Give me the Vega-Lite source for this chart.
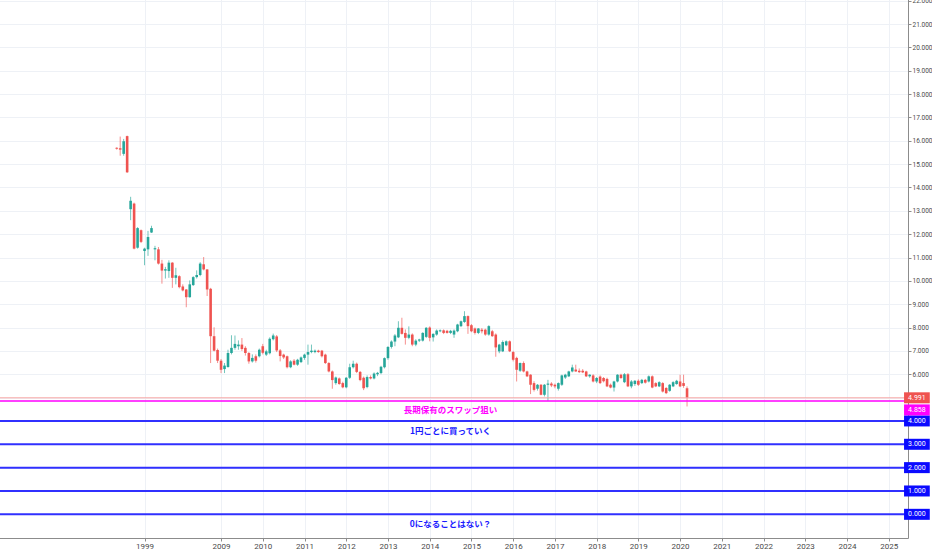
{
  "$schema": "https://vega.github.io/schema/vega-lite/v6.json",
  "width": 932,
  "height": 550,
  "autosize": {"type": "fit", "contains": "padding"},
  "padding": {"left": -7, "top": -5, "right": 0, "bottom": 0},
  "background": "#ffffff",
  "config": {
    "view": {"stroke": null},
    "font": "Roboto",
    "axis": {"labelOverlap": false, "labelSeparation": 0}
  },
  "datasets": {
    "candles": [
      {"t": -30, "o": 15.70, "h": 15.72, "l": 15.62, "c": 15.66},
      {"t": -29, "o": 15.68, "h": 16.18, "l": 15.36, "c": 15.62},
      {"t": -28, "o": 15.44, "h": 16.08, "l": 15.36, "c": 15.98},
      {"t": -27, "o": 16.20, "h": 16.22, "l": 14.62, "c": 14.65},
      {"t": -26, "o": 13.07, "h": 13.60, "l": 12.60, "c": 13.43},
      {"t": -25, "o": 13.31, "h": 13.35, "l": 11.35, "c": 11.38},
      {"t": -24, "o": 11.42, "h": 12.30, "l": 11.38, "c": 12.26},
      {"t": -23, "o": 12.17, "h": 12.20, "l": 11.62, "c": 11.67},
      {"t": -22, "o": 11.28, "h": 11.42, "l": 10.67, "c": 11.38},
      {"t": -21, "o": 11.35, "h": 12.14, "l": 11.07, "c": 11.88},
      {"t": -20, "o": 12.07, "h": 12.36, "l": 12.05, "c": 12.26},
      {"t": -19, "o": 11.35, "h": 11.50, "l": 10.88, "c": 11.40},
      {"t": -18, "o": 11.35, "h": 11.45, "l": 10.70, "c": 10.74},
      {"t": -17, "o": 10.74, "h": 10.90, "l": 9.88, "c": 10.44},
      {"t": -16, "o": 10.44, "h": 10.60, "l": 10.10, "c": 10.50},
      {"t": -15, "o": 10.42, "h": 10.88, "l": 10.13, "c": 10.78},
      {"t": -14, "o": 10.78, "h": 10.80, "l": 9.70, "c": 10.13},
      {"t": -13, "o": 10.13, "h": 10.56, "l": 9.85, "c": 10.24},
      {"t": -12, "o": 10.20, "h": 10.24, "l": 9.68, "c": 9.73},
      {"t": -11, "o": 9.76, "h": 9.85, "l": 9.55, "c": 9.59},
      {"t": -10, "o": 9.63, "h": 9.65, "l": 8.87, "c": 9.30},
      {"t": -9, "o": 9.30, "h": 10.02, "l": 9.28, "c": 9.85},
      {"t": -8, "o": 9.82, "h": 10.20, "l": 9.78, "c": 10.16},
      {"t": -7, "o": 10.16, "h": 10.45, "l": 10.10, "c": 10.25},
      {"t": -6, "o": 10.25, "h": 10.80, "l": 10.20, "c": 10.74},
      {"t": -5, "o": 10.71, "h": 11.02, "l": 10.45, "c": 10.49},
      {"t": -4, "o": 10.49, "h": 10.50, "l": 9.35, "c": 9.63},
      {"t": -3, "o": 9.66, "h": 9.70, "l": 6.48, "c": 7.63},
      {"t": -2, "o": 7.63, "h": 8.01, "l": 6.98, "c": 7.01},
      {"t": -1, "o": 7.04, "h": 7.10, "l": 6.48, "c": 6.58},
      {"t": 0, "o": 6.58, "h": 6.65, "l": 6.05, "c": 6.19},
      {"t": 1, "o": 6.22, "h": 6.48, "l": 6.05, "c": 6.37},
      {"t": 2, "o": 6.31, "h": 7.05, "l": 6.28, "c": 6.91},
      {"t": 3, "o": 6.91, "h": 7.67, "l": 6.85, "c": 7.13},
      {"t": 4, "o": 7.13, "h": 7.66, "l": 7.05, "c": 7.30},
      {"t": 5, "o": 7.20, "h": 7.45, "l": 7.05, "c": 7.27},
      {"t": 6, "o": 7.27, "h": 7.55, "l": 7.00, "c": 7.08},
      {"t": 7, "o": 7.13, "h": 7.20, "l": 6.80, "c": 6.91},
      {"t": 8, "o": 6.91, "h": 6.95, "l": 6.45, "c": 6.55},
      {"t": 9, "o": 6.55, "h": 6.85, "l": 6.50, "c": 6.70},
      {"t": 10, "o": 6.77, "h": 6.85, "l": 6.50, "c": 6.58},
      {"t": 11, "o": 6.77, "h": 7.10, "l": 6.72, "c": 7.05},
      {"t": 12, "o": 7.20, "h": 7.30, "l": 6.85, "c": 6.92},
      {"t": 13, "o": 6.84, "h": 7.05, "l": 6.78, "c": 6.98},
      {"t": 14, "o": 6.90, "h": 7.58, "l": 6.85, "c": 7.52},
      {"t": 15, "o": 7.50, "h": 7.74, "l": 7.45, "c": 7.66},
      {"t": 16, "o": 7.62, "h": 7.68, "l": 6.95, "c": 7.02},
      {"t": 17, "o": 7.02, "h": 7.08, "l": 6.55, "c": 6.78},
      {"t": 18, "o": 6.84, "h": 6.88, "l": 6.65, "c": 6.72},
      {"t": 19, "o": 6.77, "h": 6.80, "l": 6.25, "c": 6.30},
      {"t": 20, "o": 6.30, "h": 6.60, "l": 6.26, "c": 6.55},
      {"t": 21, "o": 6.58, "h": 6.65, "l": 6.38, "c": 6.41},
      {"t": 22, "o": 6.41, "h": 6.66, "l": 6.36, "c": 6.62},
      {"t": 23, "o": 6.52, "h": 6.76, "l": 6.48, "c": 6.72},
      {"t": 24, "o": 6.70, "h": 6.88, "l": 6.62, "c": 6.84},
      {"t": 25, "o": 6.84, "h": 7.27, "l": 6.41, "c": 6.95},
      {"t": 26, "o": 6.95, "h": 7.27, "l": 6.90, "c": 7.01},
      {"t": 27, "o": 6.95, "h": 7.06, "l": 6.90, "c": 7.01},
      {"t": 28, "o": 7.01, "h": 7.05, "l": 6.92, "c": 6.95},
      {"t": 29, "o": 7.01, "h": 7.04, "l": 6.72, "c": 6.77},
      {"t": 30, "o": 6.84, "h": 6.88, "l": 6.44, "c": 6.48},
      {"t": 31, "o": 6.48, "h": 6.52, "l": 6.08, "c": 6.12},
      {"t": 32, "o": 6.12, "h": 6.16, "l": 5.38, "c": 5.75},
      {"t": 33, "o": 5.62, "h": 5.90, "l": 5.55, "c": 5.86},
      {"t": 34, "o": 5.82, "h": 5.86, "l": 5.55, "c": 5.58},
      {"t": 35, "o": 5.62, "h": 5.68, "l": 5.40, "c": 5.44},
      {"t": 36, "o": 5.44, "h": 5.88, "l": 5.40, "c": 5.85},
      {"t": 37, "o": 5.85, "h": 6.45, "l": 5.80, "c": 6.30},
      {"t": 38, "o": 6.30, "h": 6.58, "l": 6.25, "c": 6.45},
      {"t": 39, "o": 6.45, "h": 6.50, "l": 6.05, "c": 6.10},
      {"t": 40, "o": 6.10, "h": 6.14, "l": 5.70, "c": 5.75},
      {"t": 41, "o": 5.85, "h": 5.90, "l": 5.32, "c": 5.40},
      {"t": 42, "o": 5.45, "h": 5.95, "l": 5.40, "c": 5.88},
      {"t": 43, "o": 5.88, "h": 5.95, "l": 5.78, "c": 5.82},
      {"t": 44, "o": 5.82, "h": 6.08, "l": 5.78, "c": 6.03},
      {"t": 45, "o": 6.00, "h": 6.10, "l": 5.92, "c": 6.06},
      {"t": 46, "o": 6.05, "h": 6.36, "l": 6.00, "c": 6.32},
      {"t": 47, "o": 6.30, "h": 6.72, "l": 6.25, "c": 6.69},
      {"t": 48, "o": 6.69, "h": 7.20, "l": 6.62, "c": 7.17},
      {"t": 49, "o": 7.17, "h": 7.45, "l": 7.10, "c": 7.40},
      {"t": 50, "o": 7.40, "h": 7.72, "l": 7.20, "c": 7.66},
      {"t": 51, "o": 7.58, "h": 8.27, "l": 7.55, "c": 7.99},
      {"t": 52, "o": 7.99, "h": 8.42, "l": 7.70, "c": 7.73},
      {"t": 53, "o": 7.77, "h": 7.92, "l": 7.27, "c": 7.56},
      {"t": 54, "o": 7.56, "h": 8.05, "l": 7.50, "c": 7.70},
      {"t": 55, "o": 7.70, "h": 7.75, "l": 7.20, "c": 7.27},
      {"t": 56, "o": 7.27, "h": 7.50, "l": 7.20, "c": 7.44},
      {"t": 57, "o": 7.44, "h": 7.52, "l": 7.38, "c": 7.49},
      {"t": 58, "o": 7.44, "h": 7.80, "l": 7.40, "c": 7.77},
      {"t": 59, "o": 7.60, "h": 8.02, "l": 7.55, "c": 7.99},
      {"t": 60, "o": 8.00, "h": 8.05, "l": 7.41, "c": 7.56},
      {"t": 61, "o": 7.58, "h": 7.75, "l": 7.40, "c": 7.73},
      {"t": 62, "o": 7.70, "h": 7.92, "l": 7.65, "c": 7.87},
      {"t": 63, "o": 7.84, "h": 7.92, "l": 7.80, "c": 7.88},
      {"t": 64, "o": 7.88, "h": 7.92, "l": 7.72, "c": 7.77},
      {"t": 65, "o": 7.86, "h": 7.90, "l": 7.74, "c": 7.77},
      {"t": 66, "o": 7.77, "h": 7.90, "l": 7.72, "c": 7.86},
      {"t": 67, "o": 7.70, "h": 7.92, "l": 7.56, "c": 7.87},
      {"t": 68, "o": 7.84, "h": 8.16, "l": 7.80, "c": 8.13},
      {"t": 69, "o": 8.06, "h": 8.30, "l": 8.02, "c": 8.27},
      {"t": 70, "o": 8.24, "h": 8.70, "l": 8.20, "c": 8.49},
      {"t": 71, "o": 8.49, "h": 8.52, "l": 7.73, "c": 8.06},
      {"t": 72, "o": 8.10, "h": 8.15, "l": 7.80, "c": 7.84},
      {"t": 73, "o": 7.96, "h": 8.00, "l": 7.70, "c": 7.77},
      {"t": 74, "o": 7.77, "h": 7.98, "l": 7.72, "c": 7.96},
      {"t": 75, "o": 7.91, "h": 7.98, "l": 7.75, "c": 7.84},
      {"t": 76, "o": 7.91, "h": 7.95, "l": 7.65, "c": 7.70},
      {"t": 77, "o": 7.70, "h": 8.10, "l": 7.65, "c": 8.06},
      {"t": 78, "o": 7.84, "h": 7.90, "l": 7.60, "c": 7.63},
      {"t": 79, "o": 7.70, "h": 7.75, "l": 6.75, "c": 7.15},
      {"t": 80, "o": 6.98, "h": 7.30, "l": 6.90, "c": 7.27},
      {"t": 81, "o": 6.98, "h": 7.45, "l": 6.95, "c": 7.38},
      {"t": 82, "o": 7.24, "h": 7.45, "l": 7.20, "c": 7.41},
      {"t": 83, "o": 7.41, "h": 7.45, "l": 6.95, "c": 6.98},
      {"t": 84, "o": 6.95, "h": 7.00, "l": 6.55, "c": 6.62},
      {"t": 85, "o": 6.70, "h": 6.75, "l": 5.69, "c": 6.19},
      {"t": 86, "o": 6.15, "h": 6.50, "l": 6.10, "c": 6.48},
      {"t": 87, "o": 6.48, "h": 6.55, "l": 6.08, "c": 6.12},
      {"t": 88, "o": 6.12, "h": 6.15, "l": 5.88, "c": 5.91},
      {"t": 89, "o": 5.98, "h": 6.00, "l": 5.15, "c": 5.55},
      {"t": 90, "o": 5.62, "h": 5.70, "l": 5.26, "c": 5.33},
      {"t": 91, "o": 5.38, "h": 5.58, "l": 5.30, "c": 5.55},
      {"t": 92, "o": 5.55, "h": 5.58, "l": 5.10, "c": 5.12},
      {"t": 93, "o": 5.12, "h": 5.58, "l": 5.05, "c": 5.55},
      {"t": 94, "o": 5.55, "h": 5.76, "l": 4.85, "c": 5.60},
      {"t": 95, "o": 5.60, "h": 5.66, "l": 5.45, "c": 5.52},
      {"t": 96, "o": 5.55, "h": 5.60, "l": 5.40, "c": 5.48},
      {"t": 97, "o": 5.38, "h": 5.65, "l": 5.30, "c": 5.62},
      {"t": 98, "o": 5.55, "h": 5.98, "l": 5.50, "c": 5.95},
      {"t": 99, "o": 5.86, "h": 6.02, "l": 5.80, "c": 5.98},
      {"t": 100, "o": 5.91, "h": 6.15, "l": 5.88, "c": 6.12},
      {"t": 101, "o": 6.12, "h": 6.41, "l": 6.08, "c": 6.29},
      {"t": 102, "o": 6.20, "h": 6.41, "l": 6.10, "c": 6.12},
      {"t": 103, "o": 6.15, "h": 6.25, "l": 6.05, "c": 6.09},
      {"t": 104, "o": 6.15, "h": 6.22, "l": 6.05, "c": 6.08},
      {"t": 105, "o": 6.12, "h": 6.15, "l": 5.88, "c": 5.91},
      {"t": 106, "o": 5.91, "h": 6.00, "l": 5.85, "c": 5.98},
      {"t": 107, "o": 5.95, "h": 6.00, "l": 5.65, "c": 5.69},
      {"t": 108, "o": 5.69, "h": 5.88, "l": 5.62, "c": 5.84},
      {"t": 109, "o": 5.90, "h": 5.95, "l": 5.58, "c": 5.62},
      {"t": 110, "o": 5.84, "h": 5.88, "l": 5.65, "c": 5.70},
      {"t": 111, "o": 5.80, "h": 5.85, "l": 5.45, "c": 5.48},
      {"t": 112, "o": 5.55, "h": 5.60, "l": 5.40, "c": 5.43},
      {"t": 113, "o": 5.43, "h": 5.72, "l": 5.26, "c": 5.69},
      {"t": 114, "o": 5.69, "h": 6.00, "l": 5.65, "c": 5.98},
      {"t": 115, "o": 5.98, "h": 6.02, "l": 5.80, "c": 5.84},
      {"t": 116, "o": 5.66, "h": 6.05, "l": 5.62, "c": 6.00},
      {"t": 117, "o": 6.00, "h": 6.05, "l": 5.45, "c": 5.48},
      {"t": 118, "o": 5.48, "h": 5.75, "l": 5.40, "c": 5.69},
      {"t": 119, "o": 5.58, "h": 5.75, "l": 5.50, "c": 5.72},
      {"t": 120, "o": 5.72, "h": 5.78, "l": 5.50, "c": 5.55},
      {"t": 121, "o": 5.62, "h": 5.80, "l": 5.58, "c": 5.76},
      {"t": 122, "o": 5.76, "h": 5.80, "l": 5.60, "c": 5.64},
      {"t": 123, "o": 5.69, "h": 5.95, "l": 5.65, "c": 5.91},
      {"t": 124, "o": 5.91, "h": 5.95, "l": 5.40, "c": 5.43},
      {"t": 125, "o": 5.62, "h": 5.66, "l": 5.45, "c": 5.48},
      {"t": 126, "o": 5.48, "h": 5.70, "l": 5.45, "c": 5.66},
      {"t": 127, "o": 5.62, "h": 5.66, "l": 5.22, "c": 5.26},
      {"t": 128, "o": 5.41, "h": 5.45, "l": 5.15, "c": 5.19},
      {"t": 129, "o": 5.29, "h": 5.58, "l": 5.25, "c": 5.55},
      {"t": 130, "o": 5.48, "h": 5.70, "l": 5.45, "c": 5.66},
      {"t": 131, "o": 5.58, "h": 5.76, "l": 5.55, "c": 5.72},
      {"t": 132, "o": 5.69, "h": 5.98, "l": 5.45, "c": 5.48},
      {"t": 133, "o": 5.62, "h": 5.98, "l": 5.42, "c": 5.50},
      {"t": 134, "o": 5.40, "h": 5.48, "l": 4.62, "c": 4.991}
    ],
    "levels": [
      {"v": 4.991, "kind": "last"},
      {"v": 4.858, "kind": "swap"},
      {"v": 4, "kind": "buy"},
      {"v": 3, "kind": "buy"},
      {"v": 2, "kind": "buy"},
      {"v": 1, "kind": "buy"},
      {"v": 0, "kind": "buy"}
    ],
    "notes": [
      {"t": 66, "p": 4.47, "text": "長期保有のスワップ狙い", "kind": "swap"},
      {"t": 66, "p": 3.57, "text": "1円ごとに買っていく", "kind": "buy"},
      {"t": 66, "p": -0.40, "text": "0になることはない？", "kind": "buy"}
    ]
  },
  "layer": [
    {
      "data": {"name": "candles"},
      "mark": {"type": "rule", "strokeWidth": 1, "opacity": 0.65},
      "encoding": {
        "x": {
          "field": "t",
          "type": "quantitative",
          "scale": {"domain": [-63.85, 196.1], "nice": false, "zero": false},
          "axis": {
            "title": null,
            "orient": "bottom",
            "values": [-22, 0, 12, 24, 36, 48, 60, 72, 84, 96, 108, 120, 132, 144, 156, 168, 180, 192],
            "labelExpr": "datum.value < 0 ? '1999' : '' + (2009 + datum.value / 12)",
            "grid": true,
            "gridColor": "#eef1f6",
            "domainColor": "#8c8c8c",
            "tickColor": "#8c8c8c",
            "tickSize": 3,
            "labelFontSize": 8,
            "labelColor": "#4a4a4a",
            "labelPadding": 1,
            "labelFlush": false
          }
        },
        "y": {
          "field": "l",
          "type": "quantitative",
          "scale": {"domain": [-0.8, 22.03], "nice": false, "zero": false},
          "axis": {
            "title": null,
            "orient": "right",
            "values": [0, 1, 2, 3, 4, 5, 6, 7, 8, 9, 10, 11, 12, 13, 14, 15, 16, 17, 18, 19, 20, 21, 22],
            "tickCount": 23,
            "labelExpr": "datum.value <= 5 ? '' : format(datum.value, '.3f')",
            "grid": true,
            "gridColor": "#eef1f6",
            "domainColor": "#8c8c8c",
            "tickColor": "#8c8c8c",
            "tickSize": 3,
            "labelFontSize": 6.5,
            "labelColor": "#4a4a4a",
            "labelPadding": 1
          }
        },
        "y2": {"field": "h"},
        "color": {
          "condition": {"test": "datum.c >= datum.o", "value": "#26a69a"},
          "value": "#ef5350"
        }
      }
    },
    {
      "data": {"name": "candles"},
      "mark": {"type": "bar", "size": 2.6},
      "encoding": {
        "x": {"field": "t", "type": "quantitative"},
        "y": {"field": "o", "type": "quantitative", "axis": {"orient": "right", "values": [0, 1, 2, 3, 4, 5, 6, 7, 8, 9, 10, 11, 12, 13, 14, 15, 16, 17, 18, 19, 20, 21, 22], "tickCount": 23}},
        "y2": {"field": "c"},
        "color": {
          "condition": {"test": "datum.c >= datum.o", "value": "#26a69a"},
          "value": "#ef5350"
        }
      }
    },
    {
      "data": {"name": "levels"},
      "mark": {"type": "rule"},
      "encoding": {
        "y": {"field": "v", "type": "quantitative", "axis": {"orient": "right", "values": [0, 1, 2, 3, 4, 5, 6, 7, 8, 9, 10, 11, 12, 13, 14, 15, 16, 17, 18, 19, 20, 21, 22], "tickCount": 23}},
        "color": {
          "field": "kind",
          "type": "nominal",
          "scale": {"domain": ["last", "swap", "buy"], "range": ["#f7a6a4", "#ff00ff", "#3030ff"]},
          "legend": null
        },
        "strokeWidth": {
          "field": "kind",
          "type": "nominal",
          "scale": {"domain": ["last", "swap", "buy"], "range": [1, 2, 2]},
          "legend": null
        }
      }
    },
    {
      "data": {"name": "levels"},
      "transform": [{"filter": "datum.kind != 'swap'"}],
      "mark": {"type": "bar", "size": 11},
      "encoding": {
        "x": {"datum": 196.4, "type": "quantitative"},
        "x2": {"datum": 203.8},
        "y": {"field": "v", "type": "quantitative", "axis": {"orient": "right", "values": [0, 1, 2, 3, 4, 5, 6, 7, 8, 9, 10, 11, 12, 13, 14, 15, 16, 17, 18, 19, 20, 21, 22], "tickCount": 23}},
        "color": {
          "field": "kind",
          "type": "nominal",
          "scale": {"domain": ["last", "swap", "buy"], "range": ["#ef5350", "#ff00ff", "#0a0aff"]},
          "legend": null
        }
      }
    },
    {
      "data": {"name": "levels"},
      "transform": [{"filter": "datum.kind == 'swap'"}],
      "mark": {"type": "bar", "size": 11, "yOffset": 9, "color": "#ff00ff"},
      "encoding": {
        "x": {"datum": 196.4, "type": "quantitative"},
        "x2": {"datum": 203.8},
        "y": {"field": "v", "type": "quantitative", "axis": {"orient": "right", "values": [0, 1, 2, 3, 4, 5, 6, 7, 8, 9, 10, 11, 12, 13, 14, 15, 16, 17, 18, 19, 20, 21, 22], "tickCount": 23}}
      }
    },
    {
      "data": {"name": "levels"},
      "transform": [{"filter": "datum.kind != 'swap'"}],
      "mark": {"type": "text", "fontSize": 7, "color": "#ffffff", "align": "center", "baseline": "middle"},
      "encoding": {
        "x": {"datum": 200.1, "type": "quantitative"},
        "y": {"field": "v", "type": "quantitative", "axis": {"orient": "right", "values": [0, 1, 2, 3, 4, 5, 6, 7, 8, 9, 10, 11, 12, 13, 14, 15, 16, 17, 18, 19, 20, 21, 22], "tickCount": 23}},
        "text": {"field": "v", "type": "quantitative", "format": ".3f"}
      }
    },
    {
      "data": {"name": "levels"},
      "transform": [{"filter": "datum.kind == 'swap'"}],
      "mark": {"type": "text", "fontSize": 7, "color": "#ffffff", "align": "center", "baseline": "middle", "yOffset": 9},
      "encoding": {
        "x": {"datum": 200.1, "type": "quantitative"},
        "y": {"field": "v", "type": "quantitative", "axis": {"orient": "right", "values": [0, 1, 2, 3, 4, 5, 6, 7, 8, 9, 10, 11, 12, 13, 14, 15, 16, 17, 18, 19, 20, 21, 22], "tickCount": 23}},
        "text": {"field": "v", "type": "quantitative", "format": ".3f"}
      }
    },
    {
      "data": {"name": "notes"},
      "mark": {"type": "text", "font": "Noto Sans CJK JP", "fontSize": 8.5, "fontWeight": "bold", "align": "center", "baseline": "middle"},
      "encoding": {
        "x": {"field": "t", "type": "quantitative"},
        "y": {"field": "p", "type": "quantitative", "axis": {"orient": "right", "values": [0, 1, 2, 3, 4, 5, 6, 7, 8, 9, 10, 11, 12, 13, 14, 15, 16, 17, 18, 19, 20, 21, 22], "tickCount": 23}},
        "text": {"field": "text"},
        "color": {
          "field": "kind",
          "type": "nominal",
          "scale": {"domain": ["swap", "buy"], "range": ["#ff00ff", "#1a1aff"]},
          "legend": null
        }
      }
    }
  ],
  "resolve": {"scale": {"color": "independent"}}
}
